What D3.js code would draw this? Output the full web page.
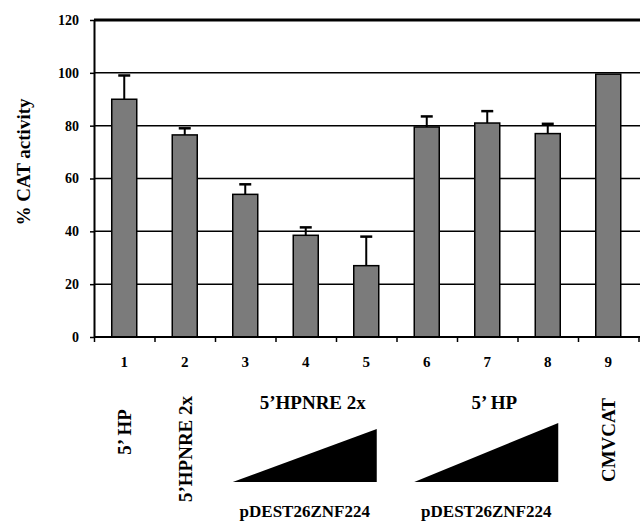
<!DOCTYPE html>
<html>
<head>
<meta charset="utf-8">
<script src="https://d3js.org/d3.v7.min.js"></script>
<style>
    body { margin:0; background:#fff; }
    svg { display:block; }
    svg text { font-family:"Liberation Serif", Tinos, "Times New Roman", Times, "DejaVu Serif", serif !important; font-weight:bold; fill:#000; }
</style>
</head>
<body>
<svg width="640" height="521"></svg>
<script>
    // data
    const lanes = ['1', '2', '3', '4', '5', '6', '7', '8', '9'];
    const activity = [90, 76.5, 54, 38.5, 27, 79.5, 81, 77, 99.5];
    const errUp = [9, 2.5, 3.8, 3, 11, 4, 4.5, 3.7, 0];
    const yTicks = [0, 20, 40, 60, 80, 100, 120];
    const laneLabels = [{ lane: '1', text: '5\u2019 HP' }, { lane: '2', text: '5\u2019HPNRE 2x' }, { lane: '9', text: 'CMVCAT' }];
    const groups = [{ from: '3', to: '5', title: '5\u2019HPNRE 2x', sub: 'pDEST26ZNF224', peak: 429 },
                    { from: '6', to: '8', title: '5\u2019 HP', sub: 'pDEST26ZNF224', peak: 423 }];

    let svg = d3.select('svg');
    let plotLeft = 94, plotRight = 638.5, plotTop = 20, plotBottom = 337;

    let x = d3.scaleBand().domain(lanes).range([plotLeft, plotRight]);
    let xEdge = d3.scaleLinear().domain([0, lanes.length]).range([plotLeft, plotRight]);
    let y = d3.scaleLinear().domain([0, 120]).range([plotBottom, plotTop]);
    let barW = 25;

    // horizontal grid lines
    svg.append('g').selectAll('line')
        .data(yTicks.filter(d => d > 0))
        .join('line')
        .attr('x1', plotLeft).attr('x2', 640)
        .attr('y1', d => y(d)).attr('y2', d => y(d))
        .style('stroke', '#000')
        .style('stroke-width', d => d == 120 ? 2.8 : 1.5);

    // bars
    svg.append('g').selectAll('rect')
        .data(lanes)
        .join('rect')
        .attr('x', d => x(d) + x.bandwidth() / 2 - barW / 2)
        .attr('width', barW)
        .attr('y', (d, i) => y(activity[i]))
        .attr('height', (d, i) => plotBottom - y(activity[i]))
        .style('fill', '#7b7b7b')
        .style('stroke', '#000')
        .style('stroke-width', 1.5);

    // error bars (upward only)
    let eb = svg.append('g').selectAll('g')
        .data(lanes.filter((d, i) => errUp[i] > 0))
        .join('g');
    eb.append('line')
        .attr('x1', d => x(d) + x.bandwidth() / 2).attr('x2', d => x(d) + x.bandwidth() / 2)
        .attr('y1', d => y(activity[lanes.indexOf(d)]))
        .attr('y2', d => y(activity[lanes.indexOf(d)] + errUp[lanes.indexOf(d)]))
        .style('stroke', '#000').style('stroke-width', 2);
    eb.append('line')
        .attr('x1', d => x(d) + x.bandwidth() / 2 - 6).attr('x2', d => x(d) + x.bandwidth() / 2 + 6)
        .attr('y1', d => y(activity[lanes.indexOf(d)] + errUp[lanes.indexOf(d)]))
        .attr('y2', d => y(activity[lanes.indexOf(d)] + errUp[lanes.indexOf(d)]))
        .style('stroke', '#000').style('stroke-width', 2.5);

    // y axis
    let yAxis = svg.append('g')
        .attr('transform', `translate(${plotLeft},0)`)
        .call(d3.axisLeft(y).tickValues(yTicks).tickSize(4).tickPadding(11).tickSizeOuter(0));
    yAxis.attr('font-family', null);
    yAxis.select('.domain').style('stroke-width', 2);
    yAxis.selectAll('.tick line').style('stroke-width', 1.5);
    yAxis.selectAll('.tick text').style('font-size', '14px');

    // x axis baseline with ticks at lane boundaries
    let xAxis = svg.append('g')
        .attr('transform', `translate(0,${plotBottom})`)
        .call(d3.axisBottom(xEdge).ticks(lanes.length).tickSize(5).tickFormat('').tickSizeOuter(0));
    xAxis.select('.domain').attr('d', `M${plotLeft},0H640`).style('stroke-width', 2);
    xAxis.selectAll('.tick line').style('stroke-width', 1.5);

    // lane numbers
    svg.append('g').selectAll('text')
        .data(lanes)
        .join('text')
        .attr('x', d => x(d) + x.bandwidth() / 2)
        .attr('y', 367)
        .attr('text-anchor', 'middle')
        .style('font-size', '15px')
        .text(d => d);

    // y title
    svg.append('text')
        .attr('transform', 'translate(30,162) rotate(-90)')
        .attr('text-anchor', 'middle')
        .style('font-size', '19px')
        .text('% CAT activity');

    // rotated lane labels
    svg.append('g').selectAll('text')
        .data(laneLabels)
        .join('text')
        .attr('transform', d => `translate(${x(d.lane) + x.bandwidth() / 2 + 7},${d.lane == '2' ? 449 : (d.lane == '9' ? 440 : 432)}) rotate(-90)`)
        .attr('text-anchor', 'middle')
        .style('font-size', '19px')
        .text(d => d.text);

    // titration groups: title, wedge, plasmid name
    let gg = svg.append('g').selectAll('g')
        .data(groups)
        .join('g');
    let x0 = d => x(d.from) + x.bandwidth() / 2 - barW / 2;
    let x1 = d => x(d.to) + x.bandwidth() / 2 + barW / 2 - 2;
    gg.append('text')
        .attr('x', d => (x0(d) + x1(d)) / 2 + 8)
        .attr('y', 409)
        .attr('text-anchor', 'middle')
        .style('font-size', '19px')
        .text(d => d.title);
    gg.append('path')
        .attr('d', d => `M${x0(d)},482L${x1(d)},${d.peak}L${x1(d)},482Z`)
        .style('fill', '#000');
    gg.append('text')
        .attr('x', d => (x0(d) + x1(d)) / 2)
        .attr('y', 517)
        .attr('text-anchor', 'middle')
        .style('font-size', '17px')
        .text(d => d.sub);
</script>
</body>
</html>
